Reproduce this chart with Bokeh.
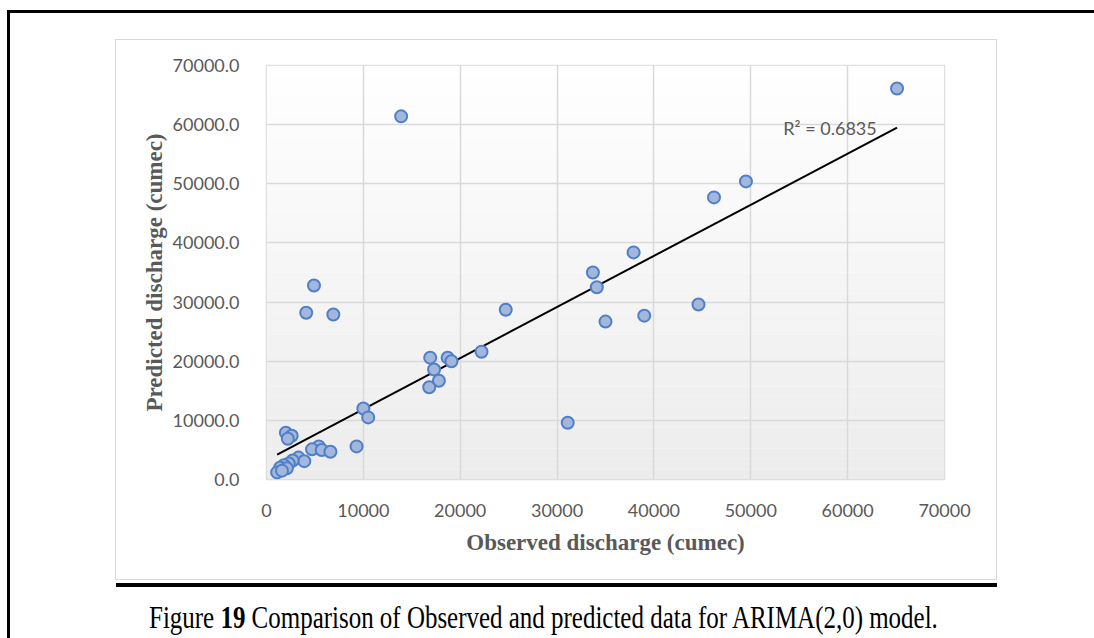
from bokeh.plotting import figure
from bokeh.layouts import column
from bokeh.models import (Label, BoxAnnotation, Range1d, FixedTicker, ColumnDataSource, Div)
from bokeh.embed import file_html
from bokeh.resources import INLINE

# ---- data ----
observed = [65100, 13900, 49500, 46200, 37900, 33700, 34100, 4900, 4100, 6900,
            24700, 44600, 39000, 35000, 16900, 18700, 19100, 17300, 22200, 17800,
            16800, 10000, 10500, 31100, 2000, 2600, 2200, 9300, 5400, 4700,
            5700, 6600, 3300, 3900, 2700, 2300, 1800, 1400, 1100, 2100, 1600]
predicted = [66100, 61400, 50400, 47700, 38400, 35000, 32500, 32800, 28200, 27900,
             28700, 29600, 27700, 26700, 20600, 20600, 20000, 18600, 21600, 16700,
             15600, 12000, 10500, 9600, 7900, 7400, 6900, 5600, 5600, 5100,
             5000, 4700, 3700, 3100, 3200, 2700, 2400, 2000, 1200, 1900, 1500]
# linear trendline end points as drawn in the reference
trend_x = [1100, 65100]
trend_y = [4200, 59500]
r2_text = "R\u00b2 = 0.6835"
x_ticks = [0, 10000, 20000, 30000, 40000, 50000, 60000, 70000]
x_tick_labels = ["0", "10000", "20000", "30000", "40000", "50000", "60000", "70000"]
y_ticks = [0, 10000, 20000, 30000, 40000, 50000, 60000, 70000]
y_tick_labels = ["0.0", "10000.0", "20000.0", "30000.0", "40000.0", "50000.0", "60000.0", "70000.0"]
x_title = "Observed discharge (cumec)"
y_title = "Predicted discharge (cumec)"
caption_html = "Figure <b>19</b> Comparison of Observed and predicted data for ARIMA(2,0) model."

# chart box: x 116..996, y 40..579 ; frame: x 266..944, y 65..479
CW, CH = 880, 539
p = figure(width=CW, height=CH, output_backend="svg", toolbar_location=None,
           x_range=Range1d(0, 70000), y_range=Range1d(0, 70000),
           min_border_left=150, min_border_right=52,
           min_border_top=25, min_border_bottom=100,
           margin=(27, 98, 0, 106),
           styles={"outline": "1.5px solid #d9d9d9"})
p.background_fill_color = "white"
p.border_fill_color = "white"
p.outline_line_color = "#d9d9d9"
p.outline_line_width = 1.5

# plot-area gradient (white at top to light grey at bottom)
nb = 40
for i in range(nb):
    t = (i + 0.5) / nb
    g = int(round(236 + (255 - 236) * t))
    col = "#%02x%02x%02x" % (g, g, g)
    p.add_layout(BoxAnnotation(bottom=70000 * i / nb, top=70000 * (i + 1) / nb,
                               fill_color=col, fill_alpha=1, line_color=None,
                               level="image"))

for ax in (p.xaxis[0], p.yaxis[0]):
    ax.axis_line_color = None
    ax.major_tick_line_color = None
    ax.minor_tick_line_color = None
    ax.major_label_text_font = "Lato"
    ax.major_label_text_font_size = "18px"
    ax.major_label_text_color = "#595959"
    ax.axis_label_text_font = "Liberation Serif"
    ax.axis_label_text_font_style = "bold"
    ax.axis_label_text_font_size = "23px"
    ax.axis_label_text_color = "#595959"

p.xaxis.ticker = FixedTicker(ticks=x_ticks)
p.yaxis.ticker = FixedTicker(ticks=y_ticks)
p.xaxis.major_label_overrides = dict(zip(x_ticks, x_tick_labels))
p.yaxis.major_label_overrides = dict(zip(y_ticks, y_tick_labels))
p.xaxis.major_label_standoff = 18
p.yaxis.major_label_standoff = 21
p.xaxis.axis_label = x_title
p.yaxis.axis_label = y_title
p.xaxis.axis_label_standoff = 10
p.yaxis.axis_label_standoff = 3

p.xgrid.ticker = FixedTicker(ticks=x_ticks)
p.ygrid.ticker = FixedTicker(ticks=y_ticks)
for gr in (p.xgrid[0], p.ygrid[0]):
    gr.grid_line_color = "#d9d9d9"
    gr.grid_line_width = 1.5

p.line(trend_x, trend_y, line_color="black", line_width=2)

src = ColumnDataSource(dict(x=observed, y=predicted))
p.scatter("x", "y", source=src, size=12, fill_color="#a2b7da",
          line_color="#4f7fcb", line_width=2)

p.add_layout(Label(x=63000, y=59350, text=r2_text, text_align="right",
                   text_baseline="middle", text_font="Lato",
                   text_font_size="18px", text_color="#595959"))

rule = Div(text="", width=881, height=4, margin=(4, 0, 0, 106),
           styles={"background-color": "black"})
caption = Div(text=caption_html, width=1020, height=39, margin=(12, 0, 0, 139),
              styles={"font-family": "'Liberation Serif'", "font-size": "32px",
                      "line-height": "36px", "color": "black", "white-space": "nowrap",
                      "transform": "scaleX(0.78)", "transform-origin": "left top"})

layout = column(p, rule, caption, spacing=0, margin=(10, 0, 0, 7),
                styles={"border-left": "3px solid black", "border-top": "3px solid black"})

open("out.html", "w").write(file_html(layout, INLINE))
